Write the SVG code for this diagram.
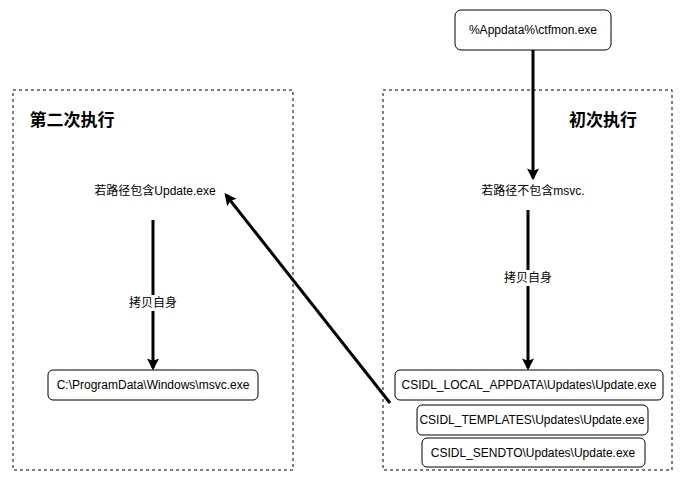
<svg xmlns="http://www.w3.org/2000/svg" width="686" height="482" viewBox="0 0 686 482">
<style>
.box{fill:none;stroke:#000;stroke-dasharray:3 3;stroke-width:1}
.node{fill:#fff;stroke:#000;stroke-width:1}
text{font-family:"Liberation Sans","Noto Sans CJK SC",sans-serif;font-size:12px;fill:#000;text-anchor:middle}
.t{font-size:17px;font-weight:bold}
.c{stroke:#000;stroke-width:3;fill:none;marker-end:url(#a)}
</style>
<defs><marker id="a" viewBox="0 0 10 10" refX="8" refY="5" markerWidth="4" markerHeight="4" orient="auto" markerUnits="strokeWidth"><path d="M0,0L10,5L0,10L2,5Z" fill="#000"/></marker></defs>
<rect width="686" height="482" fill="#fff"/>
<g id="left"><rect class="box" x="13" y="90" width="280" height="380"/><text class="t" x="72" y="126">第二次执行</text></g>
<g id="right"><rect class="box" x="383" y="90" width="289" height="380"/><text class="t" x="603" y="126">初次执行</text></g>
<g id="ctfmon"><rect class="node" x="455" y="10" width="156" height="40" rx="6"/><text x="533" y="34">%Appdata%\ctfmon.exe</text></g>
<g id="cond2"><text x="155" y="195">若路径包含Update.exe</text></g>
<g id="cond1"><text x="533" y="195">若路径不包含msvc.</text></g>
<g id="msvc"><rect class="node" x="48" y="370" width="210" height="30" rx="5"/><text x="153" y="389">C:\ProgramData\Windows\msvc.exe</text></g>
<g id="local"><rect class="node" x="395" y="370" width="268" height="30" rx="5"/><text x="529" y="389">CSIDL_LOCAL_APPDATA\Updates\Update.exe</text></g>
<g id="templates"><rect class="node" x="417" y="405" width="231" height="30" rx="5"/><text x="532" y="424">CSIDL_TEMPLATES\Updates\Update.exe</text></g>
<g id="sendto"><rect class="node" x="422" y="438" width="223" height="29" rx="5"/><text x="533" y="457">CSIDL_SENDTO\Updates\Update.exe</text></g>
<g id="connectors">
<line class="c" x1="533" y1="50" x2="533" y2="178"/>
<line class="c" x1="528" y1="210" x2="528" y2="368"/>
<line class="c" x1="153" y1="220" x2="153" y2="368"/>
<line class="c" x1="390" y1="403" x2="226" y2="195"/>
<rect x="500" y="270" width="56" height="16" fill="#fff"/><text x="528" y="282">拷贝自身</text>
<rect x="125" y="295" width="56" height="16" fill="#fff"/><text x="153" y="307">拷贝自身</text>
</g>
</svg>
